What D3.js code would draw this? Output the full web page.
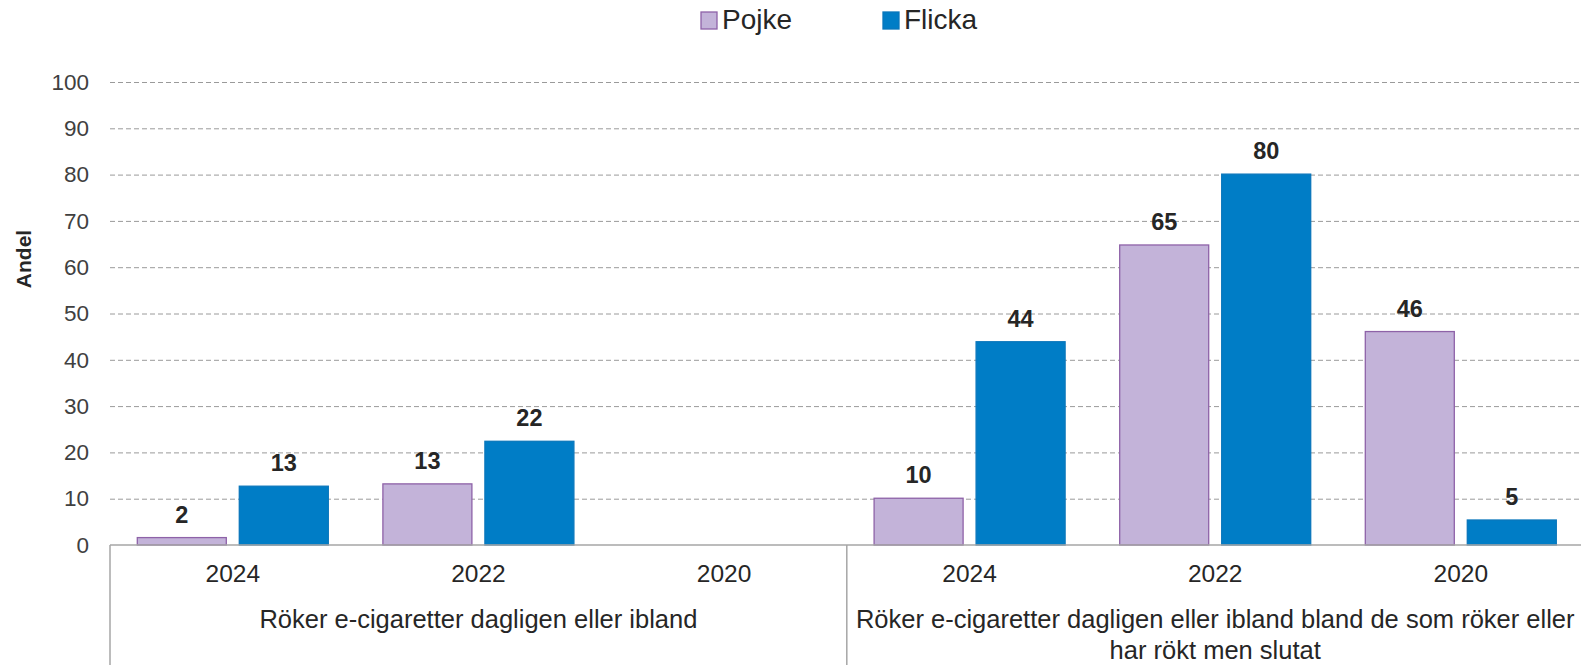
<!DOCTYPE html>
<html><head><meta charset="utf-8">
<script src="https://cdn.jsdelivr.net/npm/d3@7"></script>
<style>
html,body{margin:0;padding:0;background:#fff;}
svg{display:block;font-family:"Liberation Sans",Arial,sans-serif;}
</style></head>
<body><svg id="chart" width="1581" height="665"></svg>
<script>
const categories = ["g1-2024","g1-2022","g1-2020","g2-2024","g2-2022","g2-2020"];
const yearLabels = ["2024","2022","2020","2024","2022","2020"];
const groupLabels = [
  ["Röker e-cigaretter dagligen eller ibland"],
  ["Röker e-cigaretter dagligen eller ibland bland de som röker eller","har rökt men slutat"]
];
const seriesNames = ["Pojke","Flicka"];
const pojke = [1.6, 13.2, null, 10.1, 64.8, 46.1];
const flicka = [12.7, 22.4, null, 43.9, 80.1, 5.4];
const yTicks = [0,10,20,30,40,50,60,70,80,90,100];
const yTitle = "Andel";

(function(){
const colors = {Pojke:{fill:"#C3B3D9",stroke:"#8E62A8"}, Flicka:{fill:"#007DC6",stroke:"#0A77BC"}};

const svg = d3.select("#chart");
const pLeft = 110, pRight = 1583.6, pTop = 82, pBottom = 545;

const y = d3.scaleLinear().domain([0,100]).range([pBottom, pTop]);
const x = d3.scaleBand().domain(categories).range([pLeft, pRight]).padding(0);
const xs = d3.scaleBand().domain(seriesNames).range([0, x.bandwidth()]).paddingInner(0.1176).paddingOuter(0.2627);

// gridlines
const grid = svg.append("g").attr("transform",`translate(${pLeft},0)`)
  .call(d3.axisLeft(y).tickValues(yTicks.filter(t=>t>0)).tickSize(-(1581-pLeft)).tickFormat(""));
grid.select(".domain").remove();
grid.selectAll("line").attr("stroke","#9a9a9a").attr("stroke-dasharray","5,3").attr("stroke-width",1);

// y tick labels
const ya = svg.append("g").attr("transform",`translate(${pLeft},0)`)
  .call(d3.axisLeft(y).tickValues(yTicks).tickSize(0).tickPadding(21));
ya.select(".domain").remove();
ya.selectAll("text").attr("font-size",22.5).attr("fill","#404040").attr("font-family","Liberation Sans, Arial, sans-serif");

// y title
svg.append("text").attr("transform",`translate(31,259) rotate(-90)`)
  .attr("text-anchor","middle").attr("font-size",21).attr("font-weight","bold").attr("fill","#262626")
  .text(yTitle);

// bars
const data = categories.map((c,i)=>({cat:c, vals:[{s:"Pojke",v:pojke[i]},{s:"Flicka",v:flicka[i]}]}));
const gBars = svg.append("g");
data.forEach(d=>{
  d.vals.filter(e=>e.v!=null).forEach(e=>{
    gBars.append("rect")
      .attr("x", x(d.cat)+xs(e.s)+0.5)
      .attr("y", y(e.v))
      .attr("width", xs.bandwidth()-1)
      .attr("height", y(0)-y(e.v))
      .attr("fill", colors[e.s].fill)
      .attr("stroke", colors[e.s].stroke)
      .attr("stroke-width", 1.3);
    gBars.append("text")
      .attr("x", x(d.cat)+xs(e.s)+xs.bandwidth()/2)
      .attr("y", y(e.v)-15)
      .attr("text-anchor","middle").attr("font-size",23.5).attr("font-weight","bold").attr("fill","#262626")
      .text(d3.format(".0f")(e.v));
  });
});

// x axis baseline
svg.append("line").attr("x1",pLeft).attr("x2",1581).attr("y1",y(0)).attr("y2",y(0))
  .attr("stroke","#a6a6a6").attr("stroke-width",1.5);

// year labels
const xa = svg.append("g").attr("transform",`translate(0,${y(0)})`)
  .call(d3.axisBottom(x).tickSize(0).tickPadding(20).tickFormat((d,i)=>yearLabels[i]));
xa.select(".domain").remove();
xa.selectAll("text").attr("font-size",24.5).attr("fill","#262626").attr("font-family","Liberation Sans, Arial, sans-serif");

// group separators
const seps = [x(categories[0]), x(categories[3]), pRight-1];
seps.forEach(sx=>{
  svg.append("line").attr("x1",sx).attr("x2",sx).attr("y1",y(0)).attr("y2",665)
    .attr("stroke","#a6a6a6").attr("stroke-width",1.5);
});

// group labels
const groups = [[0,3],[3,6]];
groups.forEach((g,gi)=>{
  const cx = (x(categories[g[0]]) + x(categories[g[1]-1]) + x.bandwidth())/2;
  groupLabels[gi].forEach((line,li)=>{
    svg.append("text").attr("x",cx).attr("y",628+li*31)
      .attr("text-anchor","middle").attr("font-size",25.5).attr("fill","#262626").text(line);
  });
});

// legend
const legend = [{s:"Pojke",x:701},{s:"Flicka",x:883}];
legend.forEach(l=>{
  svg.append("rect").attr("x",l.x).attr("y",12).attr("width",16).attr("height",17)
    .attr("fill",colors[l.s].fill).attr("stroke",colors[l.s].stroke).attr("stroke-width",1.3);
  svg.append("text").attr("x",l.x+21).attr("y",29).attr("font-size",28).attr("fill","#262626").text(l.s);
});
})();
</script></body></html>
